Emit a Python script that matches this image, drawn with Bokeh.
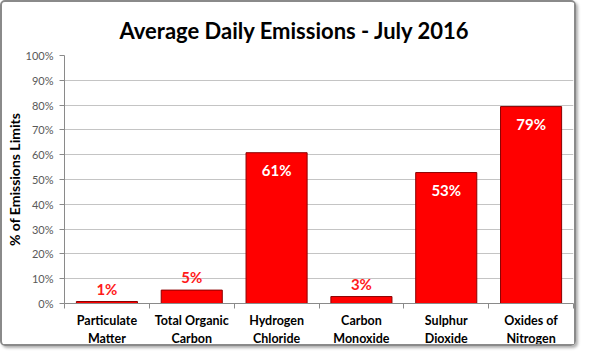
from bokeh.plotting import figure
from bokeh.models import ColumnDataSource, FixedTicker, PrintfTickFormatter, Range1d
from bokeh.core.properties import value
from bokeh.embed import file_html
from bokeh.resources import INLINE

title = "Average Daily Emissions - July 2016"
categories = ["Particulate\nMatter", "Total Organic\nCarbon", "Hydrogen\nChloride",
              "Carbon\nMonoxide", "Sulphur\nDioxide", "Oxides of\nNitrogen"]
emissions_pct = [0.8, 5.4, 60.8, 2.8, 52.8, 79.4]
y_ticks = [0, 10, 20, 30, 40, 50, 60, 70, 80, 90, 100]
y_label = "% of Emissions Limits"

FONT = "Lato"
xs = [i + 0.5 for i in range(len(categories))]
labels = [f"{round(v)}%" for v in emissions_pct]

p = figure(width=576, height=346, output_backend="svg", toolbar_location=None,
           x_range=Range1d(0, len(categories)), y_range=Range1d(0, 100),
           min_border_left=57, min_border_right=5, min_border_top=52, min_border_bottom=37)
p.styles = {"border": "2px solid #8a8a8a", "border-radius": "5px",
            "box-shadow": "2px 2px 3px #b0b0b0", "box-sizing": "border-box"}
p.outline_line_color = None
p.background_fill_color = "white"
p.border_fill_color = "white"

p.title.text = title
p.title.align = "left"
p.title.offset = 55
p.title.text_font = FONT
p.title.text_font_size = "22px"
p.title.text_font_style = "bold"
p.title.text_color = "black"
p.title.standoff = 24

src = ColumnDataSource(dict(x=xs, top=emissions_pct, label=labels))
p.vbar(x="x", top="top", width=0.72, bottom=0, source=src,
       fill_color="#ff0000", line_color="#8b0000", line_width=1)

small = [i for i, v in enumerate(emissions_pct) if v < 20]
big = [i for i, v in enumerate(emissions_pct) if v >= 20]
src_small = ColumnDataSource(dict(x=[xs[i] for i in small], y=[emissions_pct[i] for i in small],
                                  label=[labels[i] for i in small]))
src_big = ColumnDataSource(dict(x=[xs[i] for i in big], y=[emissions_pct[i] for i in big],
                                label=[labels[i] for i in big]))
p.text(x="x", y="y", text="label", source=src_small, text_align="center",
       text_baseline="bottom", y_offset=-4, text_color="#ff1a1a",
       text_font=value(FONT), text_font_size="15px", text_font_style="bold")
p.text(x="x", y="y", text="label", source=src_big, text_align="center",
       text_baseline="top", y_offset=8, text_color="white",
       text_font=value(FONT), text_font_size="15px", text_font_style="bold")

# x axis
xa = p.xaxis[0]
xa.ticker = FixedTicker(ticks=xs, minor_ticks=list(range(len(categories) + 1)))
xa.major_label_overrides = {x: c for x, c in zip(xs, categories)}
xa.major_tick_line_color = None
xa.major_tick_out = 0
xa.major_tick_in = 0
xa.minor_tick_out = 5
xa.minor_tick_in = 0
xa.minor_tick_line_color = "#8a8a8a"
xa.axis_line_color = "#8a8a8a"
xa.major_label_text_font = FONT
xa.major_label_text_font_size = "12.5px"
xa.major_label_text_font_style = "bold"
xa.major_label_text_color = "black"
xa.major_label_standoff = 4

# y axis
ya = p.yaxis[0]
ya.ticker = FixedTicker(ticks=y_ticks, minor_ticks=[])
ya.formatter = PrintfTickFormatter(format="%d%%")
ya.axis_line_color = "#8a8a8a"
ya.major_tick_line_color = "#8a8a8a"
ya.major_tick_out = 5
ya.major_tick_in = 0
ya.minor_tick_line_color = None
ya.major_label_text_font = FONT
ya.major_label_text_font_size = "11px"
ya.major_label_text_color = "#595959"
ya.major_label_standoff = 6
ya.axis_label = y_label
ya.axis_label_text_font = FONT
ya.axis_label_text_font_size = "14px"
ya.axis_label_text_font_style = "bold"
ya.axis_label_text_color = "black"
ya.axis_label_standoff = 0

p.xgrid.grid_line_color = None
p.ygrid.grid_line_color = "#c4c4c4"
p.ygrid.ticker = FixedTicker(ticks=y_ticks)

open("out.html", "w").write(file_html(p, INLINE))
